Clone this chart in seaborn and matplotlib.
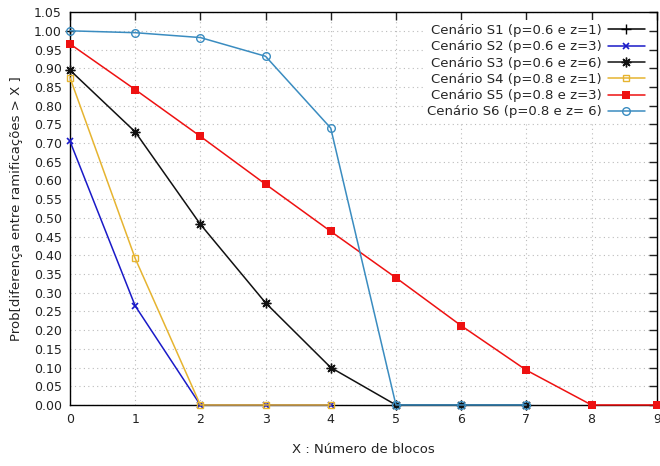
import matplotlib
matplotlib.use("Agg")
import matplotlib.pyplot as plt
import seaborn as sns
import numpy as np

# ---- data ----
x_s1 = [0]
y_s1 = [1.0]
x_s2 = [0, 1, 2, 3, 4]
y_s2 = [0.705, 0.265, 0.0, 0.0, 0.0]
x_s3 = [0, 1, 2, 3, 4, 5, 6, 7]
y_s3 = [0.895, 0.730, 0.483, 0.273, 0.100, 0.0, 0.0, 0.0]
x_s4 = [0, 1, 2, 3, 4]
y_s4 = [0.875, 0.392, 0.0, 0.0, 0.0]
x_s5 = [0, 1, 2, 3, 4, 5, 6, 7, 8, 9]
y_s5 = [0.965, 0.843, 0.718, 0.590, 0.464, 0.340, 0.212, 0.093, 0.0, 0.0]
x_s6 = [0, 1, 2, 3, 4, 5, 6, 7]
y_s6 = [1.0, 0.995, 0.982, 0.932, 0.740, 0.0, 0.0, 0.0]

labels = ["Cenário S1 (p=0.6 e z=1)", "Cenário S2 (p=0.6 e z=3)",
          "Cenário S3 (p=0.6 e z=6)", "Cenário S4 (p=0.8 e z=1)",
          "Cenário S5 (p=0.8 e z=3)", "Cenário S6 (p=0.8 e z= 6)"]
x_ticks = list(range(0, 10))
y_ticks = [round(0.05 * i, 2) for i in range(22)]

sns.set_theme(style="white")
plt.rcParams['font.family'] = ['DejaVu Sans']

fig = plt.figure(figsize=(6.6, 4.66), dpi=100)
ax = fig.add_axes([0.106, 0.131, 0.889, 0.843])

series = [
    (x_s1, y_s1, "#000000", "+", dict(markersize=7, markeredgewidth=1.0)),
    (x_s2, y_s2, "#1a1ac8", "x", dict(markersize=5, markeredgewidth=1.2)),
    (x_s3, y_s3, "#111111", (8, 2, 0), dict(markersize=7, markeredgewidth=1.0)),
    (x_s4, y_s4, "#e6b430", "s", dict(markersize=5, markerfacecolor="none", markeredgewidth=1.0)),
    (x_s5, y_s5, "#ee1111", "s", dict(markersize=6, markerfacecolor="#ee1111", markeredgewidth=0)),
    (x_s6, y_s6, "#3a8cc0", "o", dict(markersize=5.5, markerfacecolor="none", markeredgewidth=1.0)),
]

for (xs, ys, c, m, kw), lab in zip(series, labels):
    sns.lineplot(x=xs, y=ys, ax=ax, color=c, marker=m, label=lab,
                 linewidth=1.1, markeredgecolor=c, clip_on=False, zorder=3, **kw)

ax.set_xlim(0, 9)
ax.set_ylim(0, 1.05)
ax.set_xticks(x_ticks)
ax.set_yticks(y_ticks)
ax.set_xticklabels([str(v) for v in x_ticks])
ax.set_yticklabels([f"{v:.2f}" for v in y_ticks])
ax.grid(True, color="#bbbbbb", linestyle=(0, (1, 3)), linewidth=0.8)
ax.tick_params(direction="in", top=True, right=True, length=6, width=1,
               labelsize=9, colors="#222222", pad=6)
for s in ax.spines.values():
    s.set_color("#000000")
    s.set_linewidth(1.0)

ax.set_xlabel("X : Número de blocos", fontsize=9.5, color="#222222", labelpad=12)
ax.set_ylabel("Prob[diferença entre ramificações > X ]", fontsize=9.5, color="#222222", labelpad=8)

leg = ax.legend(loc="upper right", markerfirst=False, frameon=True, fontsize=9.5,
                handlelength=2.8, borderaxespad=0.6, labelspacing=0.25,
                handletextpad=0.5, borderpad=0.3)
leg.get_frame().set_facecolor("white")
leg.get_frame().set_edgecolor("none")
leg.get_frame().set_alpha(1.0)
for t in leg.get_texts():
    t.set_ha("right")
leg._legend_box.align = "right"

fig.savefig("out.png", dpi=100)
